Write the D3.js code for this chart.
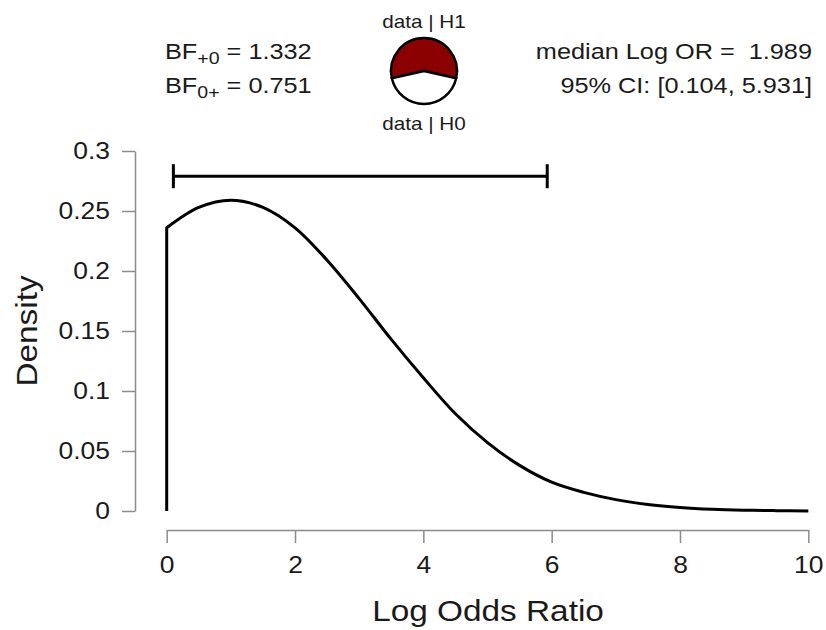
<!DOCTYPE html>
<html>
<head>
<meta charset="utf-8">
<script src="https://cdn.jsdelivr.net/npm/d3@7"></script>
<style>
  body { margin: 0; background: #fff; }
  text { font-family: "Liberation Sans", Arial, sans-serif; fill: #1a1a1a; }
</style>
</head>
<body>
<svg id="chart" width="826" height="630"></svg>
<script>
// posterior density
const logOR = [0, 0.5, 1, 1.5, 2, 2.5, 3, 3.5, 4, 4.5, 5, 5.5, 6, 6.5, 7, 7.5, 8, 8.5, 9, 9.5, 10];
const density = [0.236, 0.253, 0.259, 0.253, 0.236, 0.209, 0.177, 0.143, 0.111, 0.081, 0.057,
  0.038, 0.024, 0.0155, 0.0095, 0.0055, 0.003, 0.0015, 0.0007, 0.0003, 0.0001];
const xTicks = [0, 2, 4, 6, 8, 10];
const yTicks = [0, 0.05, 0.1, 0.15, 0.2, 0.25, 0.3];
const ciBounds = [0.104, 5.931];
const ciHeight = 0.279;
const pieValues = [1.332, 1]; // data | H1, data | H0
const bfLabels = [["+0", "1.332"], ["0+", "0.751"]];
const summaryLabels = ["median Log OR =  1.989", "95% CI: [0.104, 5.931]"];

// the reference font runs a bit wider than Liberation Sans
const SX = 1.15;

const svg = d3.select("#chart");
const x = d3.scaleLinear().domain([0, 10]).range([166.7, 808.3]);
const y = d3.scaleLinear().domain([0, 0.3]).range([511, 151]);

function addText(px, py, str, size, anchor, rotate) {
  return svg.append("text")
    .attr("transform", `translate(${px},${py})` + (rotate ? ` rotate(${rotate})` : "") + ` scale(${SX},1)`)
    .attr("text-anchor", anchor || "start")
    .attr("font-size", size)
    .text(str);
}

// axes
const xAxis = svg.append("g")
  .attr("transform", "translate(0,530)")
  .call(d3.axisBottom(x).tickValues(xTicks).tickSize(13).tickSizeOuter(0).tickFormat(d3.format("d")));
xAxis.selectAll("text").attr("y", 43).attr("dy", 0);

const yAxis = svg.append("g")
  .attr("transform", "translate(135,0)")
  .call(d3.axisLeft(y).tickValues(yTicks).tickSize(13).tickSizeOuter(0).tickFormat(d => String(d)));
yAxis.selectAll("text").attr("x", -25 / SX);

[xAxis, yAxis].forEach(ax => {
  ax.select(".domain").attr("stroke", "#8c8c8c").attr("stroke-width", 1.5);
  ax.selectAll(".tick line").attr("stroke", "#8c8c8c").attr("stroke-width", 1.5);
  ax.selectAll("text").attr("font-size", 23).attr("fill", "#1a1a1a")
    .attr("transform", `scale(${SX},1)`)
    .style("font-family", '"Liberation Sans", Arial, sans-serif');
});

addText(488, 621, "Log Odds Ratio", 29, "middle");
addText(37, 331, "Density", 29, "middle", -90);

// density curve, with the vertical drop at 0
const pts = logOR.map((v, i) => [v, density[i]]);
const line = d3.line().x(d => x(d[0])).y(d => y(d[1])).curve(d3.curveCatmullRom);
svg.append("path")
  .attr("d", "M" + x(0) + "," + y(0) + "L" + line(pts).slice(1))
  .attr("fill", "none").attr("stroke", "#000").attr("stroke-width", 3)
  .attr("stroke-linejoin", "round");

// credible interval bar
const ci = svg.append("g").attr("stroke", "#000").attr("stroke-width", 3);
ci.append("line")
  .attr("x1", x(ciBounds[0])).attr("x2", x(ciBounds[1]))
  .attr("y1", y(ciHeight)).attr("y2", y(ciHeight));
ciBounds.forEach(b => {
  ci.append("line")
    .attr("x1", x(b)).attr("x2", x(b))
    .attr("y1", y(ciHeight) - 12).attr("y2", y(ciHeight) + 12);
});

// BF text
bfLabels.forEach((d, i) => {
  const t = addText(165, 59 + i * 34, null, 22);
  t.append("tspan").text("BF");
  t.append("tspan").attr("dy", 5).attr("font-size", 17).text(d[0]);
  t.append("tspan").attr("dy", -5).text(" = " + d[1]);
});

// summary text
summaryLabels.forEach((s, i) => {
  addText(812, 59 + i * 34, s, 22, "end").style("white-space", "pre");
});

// probability wheel
const frac = pieValues[0] / d3.sum(pieValues);
const pie = d3.pie().sort(null)
  .startAngle(-frac * Math.PI)
  .endAngle(2 * Math.PI - frac * Math.PI);
const arc = d3.arc().innerRadius(0).outerRadius(33);
const wheel = svg.append("g").attr("transform", "translate(424,71)");
wheel.selectAll("path")
  .data(pie(pieValues))
  .enter().append("path")
  .attr("d", arc)
  .attr("fill", (d, i) => i === 0 ? "#8b0000" : "#fff")
  .attr("stroke", "#000").attr("stroke-width", 2.5)
  .attr("stroke-linejoin", "round");

addText(424, 28, "data | H1", 18, "middle");
addText(424, 130, "data | H0", 18, "middle");
</script>
</body>
</html>
